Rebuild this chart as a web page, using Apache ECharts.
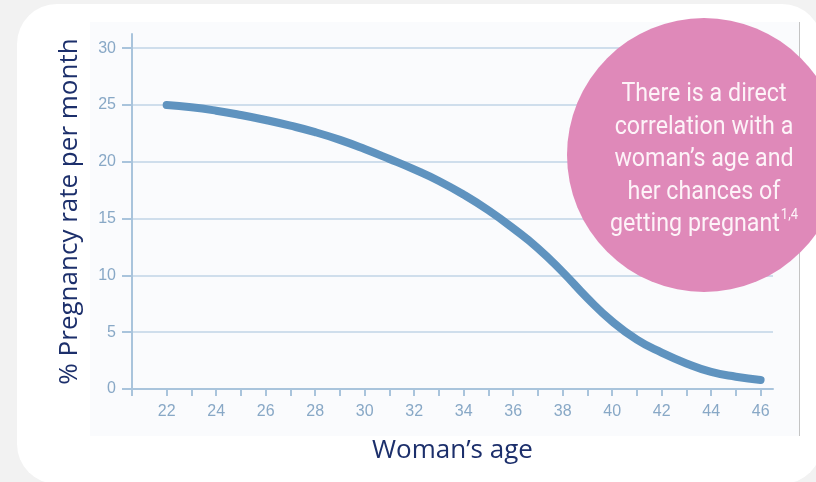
<!DOCTYPE html>
<html>
<head>
<meta charset="utf-8">
<script src="https://cdn.jsdelivr.net/npm/echarts@6/dist/echarts.min.js"></script>
<style>
  html, body { margin: 0; padding: 0; background: #f2f2f2; width: 816px; height: 482px; overflow: hidden; }
  #card { position: absolute; left: 17px; top: 4px; width: 805px; height: 480px; background: #ffffff; border-radius: 40px; }
  #panel { position: absolute; left: 90px; top: 22px; width: 709px; height: 414px; background: #fafbfd; border-right: 1px solid #c4c4c4; }
  #chart { position: absolute; left: 0; top: 0; width: 816px; height: 482px; }
</style>
</head>
<body>
<div id="card"></div>
<div id="panel"></div>
<div id="chart"></div>
<script>
// Monthly pregnancy rate (%) by woman's age
const ages  = [22, 23, 24, 25, 26, 27, 28, 29, 30, 31, 32, 33, 34, 35, 36, 37, 38, 39, 40, 41, 42, 43, 44, 45, 46];
const rates = [25.0, 24.8, 24.5, 24.12, 23.68, 23.18, 22.61, 21.93, 21.13, 20.25, 19.33, 18.31, 17.11, 15.73, 14.15, 12.4, 10.3, 8.0, 5.95, 4.35, 3.2, 2.25, 1.5, 1.08, 0.8];

// Axis ticks and labels
const yTickValues  = [0, 5, 10, 15, 20, 25, 30];
const xTickValues  = [20.6, 22, 23, 24, 25, 26, 27, 28, 29, 30, 31, 32, 33, 34, 35, 36, 37, 38, 39, 40, 41, 42, 43, 44, 45, 46];
const xLabelValues = [22, 24, 26, 28, 30, 32, 34, 36, 38, 40, 42, 44, 46];

const xAxisTitle = 'Woman\u2019s age';
const yAxisTitle = '% Pregnancy rate per month';
const calloutLines = ['There is a direct', 'correlation with a', 'woman\u2019s age and', 'her chances of', 'getting pregnant'];
const calloutRef = '1,4';

const axisBlue = '#a9c4dc';
const gridBlue = '#cfdeec';
const tickText = '#88a8c6';
const navy = '#1c2f6b';

const chart = echarts.init(document.getElementById('chart'), null, { renderer: 'canvas' });

const calloutText = calloutLines.slice(0, -1).join('\n') + '\n' +
  calloutLines[calloutLines.length - 1] + '{sup|' + calloutRef + '}';

chart.setOption({
  backgroundColor: 'transparent',
  animation: false,
  grid: { left: 132, right: 43, top: 34, bottom: 93, containLabel: false },
  xAxis: {
    type: 'value',
    min: 20.6,
    max: 46.5,
    name: xAxisTitle,
    nameLocation: 'middle',
    nameGap: 49,
    nameTextStyle: { color: navy, fontSize: 26, fontFamily: 'Open Sans' },
    axisLine: { show: true, lineStyle: { color: axisBlue, width: 2 } },
    axisTick: { show: true, length: 7, customValues: xTickValues, lineStyle: { color: axisBlue, width: 2 } },
    axisLabel: { customValues: xLabelValues, margin: 15, color: tickText, fontSize: 16, fontFamily: 'Liberation Sans' },
    splitLine: { show: false }
  },
  yAxis: {
    type: 'value',
    min: 0,
    max: 31.25,
    name: yAxisTitle,
    nameLocation: 'middle',
    nameGap: 49,
    nameTextStyle: { color: navy, fontSize: 26, fontFamily: 'Open Sans' },
    axisLine: { show: true, lineStyle: { color: axisBlue, width: 2 } },
    axisTick: { show: true, length: 10, customValues: yTickValues, lineStyle: { color: axisBlue, width: 2 } },
    axisLabel: { customValues: yTickValues, margin: 16, color: tickText, fontSize: 16, fontFamily: 'Liberation Sans' },
    splitLine: { show: true, lineStyle: { color: gridBlue, width: 2 } }
  },
  series: [{
    type: 'line',
    data: ages.map((a, i) => [a, rates[i]]),
    smooth: 0.5,
    showSymbol: false,
    lineStyle: { color: '#5f93bf', width: 8, cap: 'round', join: 'round' },
    z: 5
  }],
  graphic: [
    {
      type: 'circle',
      z: 100,
      shape: { cx: 704, cy: 155, r: 137 },
      style: { fill: '#df89b9' }
    },
    {
      type: 'text',
      z: 101,
      x: 704,
      y: 160,
      scaleX: 0.93,
      style: {
        text: calloutText,
        fill: '#fdf3f8',
        font: '25px Roboto',
        align: 'center',
        verticalAlign: 'middle',
        lineHeight: 32.5,
        rich: {
          sup: { fontSize: 14, fontFamily: 'Roboto', fill: '#fdf3f8', verticalAlign: 'top', padding: [0, 0, 12, 1] }
        }
      }
    }
  ]
});
</script>
</body>
</html>
